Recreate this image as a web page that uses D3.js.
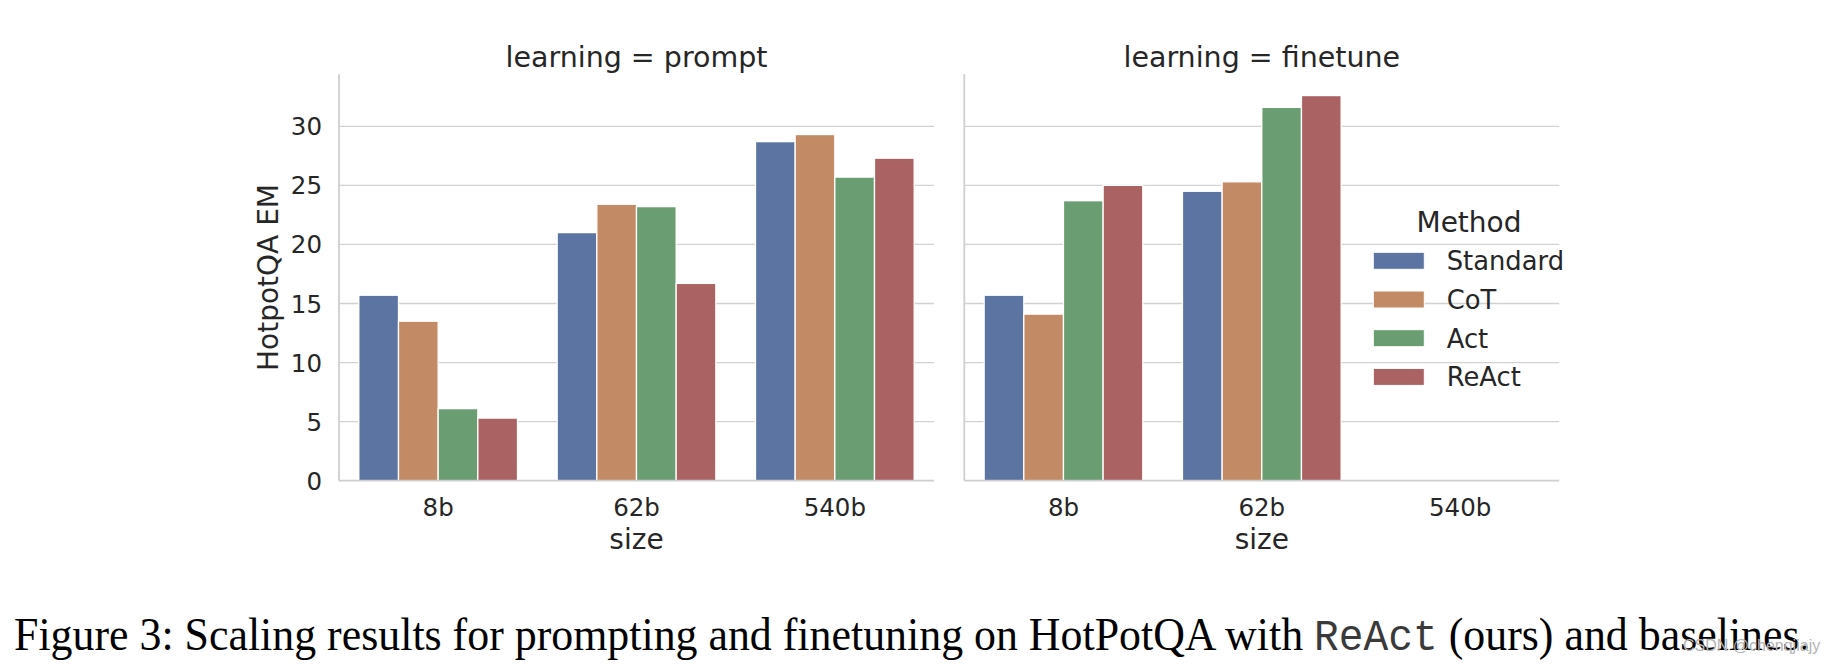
<!DOCTYPE html>
<html>
<head>
<meta charset="utf-8">
<script src="https://cdn.jsdelivr.net/npm/d3@7"></script>
<style>
    body { margin: 0; background: #fff; }
    svg { display: block; }
    text { font-family: "DejaVu Sans", sans-serif; fill: #262626; }
</style>
</head>
<body>
<div id="my_dataviz"></div>
<script>
// categories and methods
const sizes = ["8b", "62b", "540b"];
const methods = ["Standard", "CoT", "Act", "ReAct"];
const panels = ["prompt", "finetune"];
const yTicks = [0, 5, 10, 15, 20, 25, 30];
const yMax = 34.4;

// HotpotQA EM per method, one value per size
const promptStandard = [15.7, 21.0, 28.7];
const promptCoT = [13.5, 23.4, 29.3];
const promptAct = [6.1, 23.2, 25.7];
const promptReAct = [5.3, 16.7, 27.3];
const finetuneStandard = [15.7, 24.5, null];
const finetuneCoT = [14.1, 25.3, null];
const finetuneAct = [23.7, 31.6, null];
const finetuneReAct = [25.0, 32.6, null];

const colors = ["#5c74a1", "#c38a66", "#6a9d71", "#aa6263"];

// build the rows for each panel
function rowsFor(series) {
    var rows = [];
    sizes.forEach(function (s, i) {
        methods.forEach(function (m, j) {
            if (series[j][i] !== null) rows.push({ size: s, method: m, value: series[j][i] });
        });
    });
    return rows;
}
var panelData = {
    prompt: rowsFor([promptStandard, promptCoT, promptAct, promptReAct]),
    finetune: rowsFor([finetuneStandard, finetuneCoT, finetuneAct, finetuneReAct])
};

var W = 1830, H = 664;
var top_ = 74.3, bottom = 480.7;
var panelLeft = { prompt: 339, finetune: 964.3 };
var panelWidth = 595;

var svg = d3.select("#my_dataviz")
    .append("svg")
    .attr("width", W)
    .attr("height", H);

var y = d3.scaleLinear()
    .domain([0, yMax])
    .range([bottom, top_]);

var color = d3.scaleOrdinal()
    .domain(methods)
    .range(colors);

panels.forEach(function (p, pi) {
    var g = svg.append("g")
        .attr("transform", "translate(" + panelLeft[p] + ",0)");

    var x0 = d3.scaleBand()
        .domain(sizes)
        .range([0, panelWidth])
        .paddingInner(0.2)
        .paddingOuter(0.1);
    var x1 = d3.scaleBand()
        .domain(methods)
        .range([0, x0.bandwidth()]);

    // grid lines
    g.append("g")
        .selectAll("line")
        .data(yTicks.slice(1))
        .enter()
        .append("line")
        .attr("x1", 0)
        .attr("x2", panelWidth)
        .attr("y1", function (d) { return y(d); })
        .attr("y2", function (d) { return y(d); })
        .attr("stroke", "#d2d2d2")
        .attr("stroke-width", 1.3);

    // bars
    g.selectAll("mybar")
        .data(panelData[p])
        .enter()
        .append("rect")
        .attr("x", function (d) { return x0(d.size) + x1(d.method); })
        .attr("y", function (d) { return y(d.value); })
        .attr("width", x1.bandwidth())
        .attr("height", function (d) { return y(0) - y(d.value); })
        .attr("fill", function (d) { return color(d.method); })
        .attr("stroke", "#fff")
        .attr("stroke-width", 1.3);

    // spines
    g.append("line")
        .attr("x1", 0).attr("x2", 0)
        .attr("y1", top_).attr("y2", bottom)
        .attr("stroke", "#cfcfcf")
        .attr("stroke-width", 1.8);
    g.append("line")
        .attr("x1", 0).attr("x2", panelWidth)
        .attr("y1", bottom).attr("y2", bottom)
        .attr("stroke", "#cfcfcf")
        .attr("stroke-width", 1.8);

    // x axis
    var xAxis = g.append("g")
        .attr("transform", "translate(0," + bottom + ")")
        .call(d3.axisBottom(x0).tickSize(0).tickPadding(0));
    xAxis.select(".domain").remove();
    xAxis.selectAll("text")
        .attr("y", 35.5)
        .attr("dy", null)
        .style("font-family", "DejaVu Sans")
        .style("font-size", "24.5px")
        .style("fill", "#262626");

    g.append("text")
        .attr("x", panelWidth / 2)
        .attr("y", 549)
        .attr("text-anchor", "middle")
        .style("font-size", "28px")
        .text("size");

    // y axis (only first panel gets labels)
    if (pi === 0) {
        var yAxis = g.append("g")
            .call(d3.axisLeft(y).tickValues(yTicks).tickSize(0).tickPadding(17));
        yAxis.select(".domain").remove();
        yAxis.selectAll("text")
            .attr("dy", "0.35em")
            .style("font-family", "DejaVu Sans")
            .style("font-size", "24.5px")
            .style("fill", "#262626");

        g.append("text")
            .attr("text-anchor", "middle")
            .attr("transform", "translate(" + (277.5 - panelLeft[p]) + "," + ((top_ + bottom) / 2) + ")rotate(-90)")
            .style("font-size", "28px")
            .text("HotpotQA EM");
    }

    // panel title
    g.append("text")
        .attr("x", panelWidth / 2)
        .attr("y", 67)
        .attr("text-anchor", "middle")
        .style("font-size", "28.5px")
        .text("learning = " + p);
});

// legend
var legend = svg.append("g");
legend.append("text")
    .attr("x", 1469)
    .attr("y", 231.7)
    .attr("text-anchor", "middle")
    .style("font-size", "28px")
    .text("Method");
var items = legend.selectAll("g.item")
    .data(methods)
    .enter()
    .append("g")
    .attr("transform", function (d, i) { return "translate(0," + (260.8 + i * 38.7) + ")"; });
items.append("rect")
    .attr("x", 1373.3)
    .attr("y", -8.5)
    .attr("width", 51)
    .attr("height", 17)
    .attr("fill", function (d) { return color(d); })
    .attr("stroke", "#fff")
    .attr("stroke-width", 1);
items.append("text")
    .attr("x", 1446.7)
    .attr("y", 9.3)
    .style("font-size", "25.8px")
    .text(function (d) { return d; });

// caption: taller glyphs squeezed to the reference width
var capSize = 47;
var capG = svg.append("g");
var caption = capG.append("text")
    .attr("x", 0)
    .attr("y", 0)
    .style("font-family", "'Liberation Serif', 'Times New Roman', serif")
    .style("font-size", capSize + "px")
    .style("fill", "#000");
caption.append("tspan").text("Figure 3: Scaling results for prompting and finetuning on HotPotQA with ");
caption.append("tspan")
    .style("font-family", "'Liberation Mono', 'Courier New', monospace")
    .style("font-size", (capSize * 0.94) + "px")
    .style("fill", "#3a3a3a")
    .text("ReAct");
caption.append("tspan").text(" (ours) and baselines.");
var capLen = caption.node().getComputedTextLength();
capG.attr("transform", "translate(14,650)scale(" + (1797 / capLen) + ",1)");

// watermark
svg.append("text")
    .attr("x", 1683)
    .attr("y", 651)
    .style("font-family", "'Liberation Sans', Arial, sans-serif")
    .style("font-size", "16px")
    .style("fill", "#b4b4b4")
    .text("CSDN @chenqjiajy");
</script>
</body>
</html>
